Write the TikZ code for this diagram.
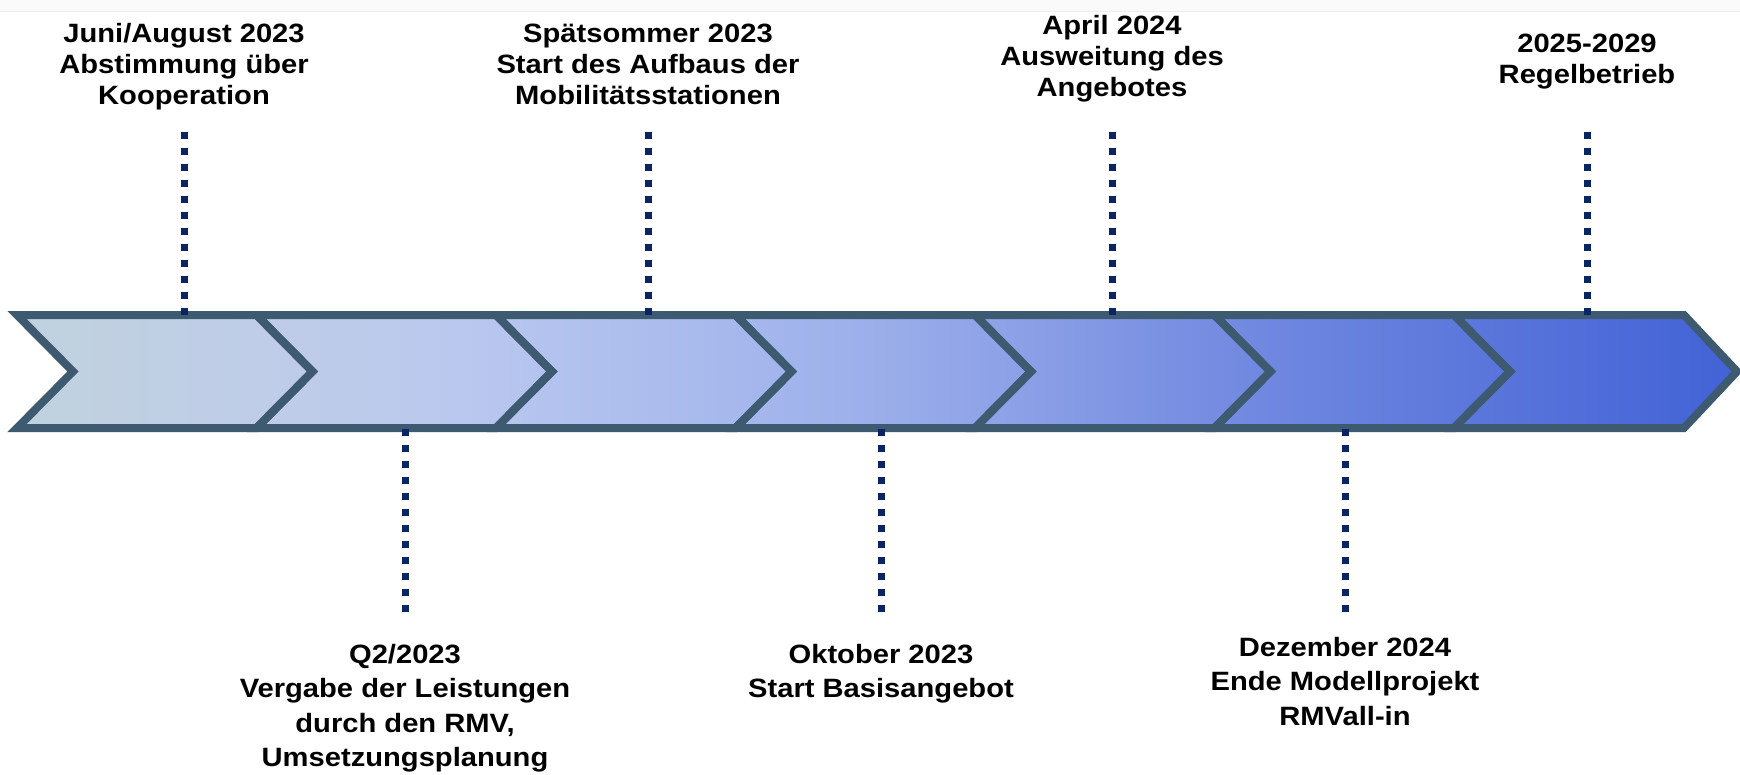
\documentclass[tikz,border=0pt]{standalone}
\usepackage{fontspec}
\setmainfont{Liberation Sans}[FakeStretch=1.1]
\definecolor{edge}{HTML}{3D5A71}
\definecolor{dotc}{HTML}{0A2563}
\definecolor{c0}{HTML}{C0D2DE}
\definecolor{c1}{HTML}{BFCDE8}
\definecolor{c2}{HTML}{BAC8EF}
\definecolor{c3}{HTML}{9DB0EB}
\definecolor{c4}{HTML}{7189E0}
\definecolor{c5}{HTML}{4262D6}
\definecolor{topgray}{HTML}{FAFAFA}
\definecolor{topline}{HTML}{EEEEEE}
\pgfdeclarehorizontalshading{bandshade}{100bp}{color(0bp)=(c0); color(25bp)=(c0); color(32bp)=(c1); color(37.9bp)=(c2); color(49.5bp)=(c3); color(60.8bp)=(c4); color(75bp)=(c5); color(100bp)=(c5)}
\tikzset{
  toplab/.style={font=\fontsize{26.5}{31.3}\selectfont\bfseries, align=center, inner sep=0pt, anchor=base},
  botlab/.style={font=\fontsize{26.5}{34.5}\selectfont\bfseries, align=center, inner sep=0pt, anchor=base},
  chev/.style={draw=edge, line width=8pt, line join=miter},
  dots/.style={draw=dotc, line width=7pt, dash pattern=on 7pt off 9pt}
}
\begin{document}
\begin{tikzpicture}[x=1pt,y=-1pt]
\useasboundingbox (0,0) rectangle (1740,774);
\fill[topgray] (0,0) rectangle (1740,11);
\draw[topline, line width=1pt] (0,11) -- (1740,11);
% band fill
\shade[shading=bandshade] (17,315) -- (1684,315) -- (1737,371.5) -- (1684,428) -- (17,428) -- (73,371.5) -- cycle;
% chevron outlines
\foreach \i in {0,...,5}{
  \pgfmathsetmacro{\L}{17+239.5*\i}
  \pgfmathsetmacro{\R}{\L+239.5}
  \draw[chev] (\L,315) -- (\R,315) -- (\R+56,371.5) -- (\R,428) -- (\L,428) -- (\L+56,371.5) -- cycle;
}
\draw[chev] (1454,315) -- (1684,315) -- (1737,371.5) -- (1684,428) -- (1454,428) -- (1510,371.5) -- cycle;
% top labels (anchor = baseline of last line)
\node[toplab] (t1) at (184,104.6) {Juni/August 2023\\Abstimmung über\\Kooperation};
\node[toplab] (t2) at (648,104.6) {Spätsommer 2023\\Start des Aufbaus der\\Mobilitätsstationen};
\node[toplab] (t3) at (1112,96.6) {April 2024\\Ausweitung des\\Angebotes};
\node[toplab] (t4) at (1587,83.3) {2025-2029\\Regelbetrieb};
% bottom labels
\node[botlab] (b1) at (405,766.5) {Q2/2023\\Vergabe der Leistungen\\durch den RMV,\\Umsetzungsplanung};
\node[botlab] (b2) at (881,697.5) {Oktober 2023\\Start Basisangebot};
\node[botlab] (b3) at (1345,725) {Dezember 2024\\Ende Modellprojekt\\RMVall-in};
% connector endpoints
\foreach \n/\x in {t1/184, t2/648, t3/1112, t4/1587}{
  \coordinate (\n s) at (\x,132);
  \coordinate (\n e) at (\x,316);
}
\foreach \n/\x in {b1/405, b2/881, b3/1345}{
  \coordinate (\n s) at (\x,429);
  \coordinate (\n e) at (\x,613);
}
\foreach \n in {t1,t2,t3,t4,b1,b2,b3}{
  \draw[dots] (\n s) -- (\n e);
}
\end{tikzpicture}
\end{document}
